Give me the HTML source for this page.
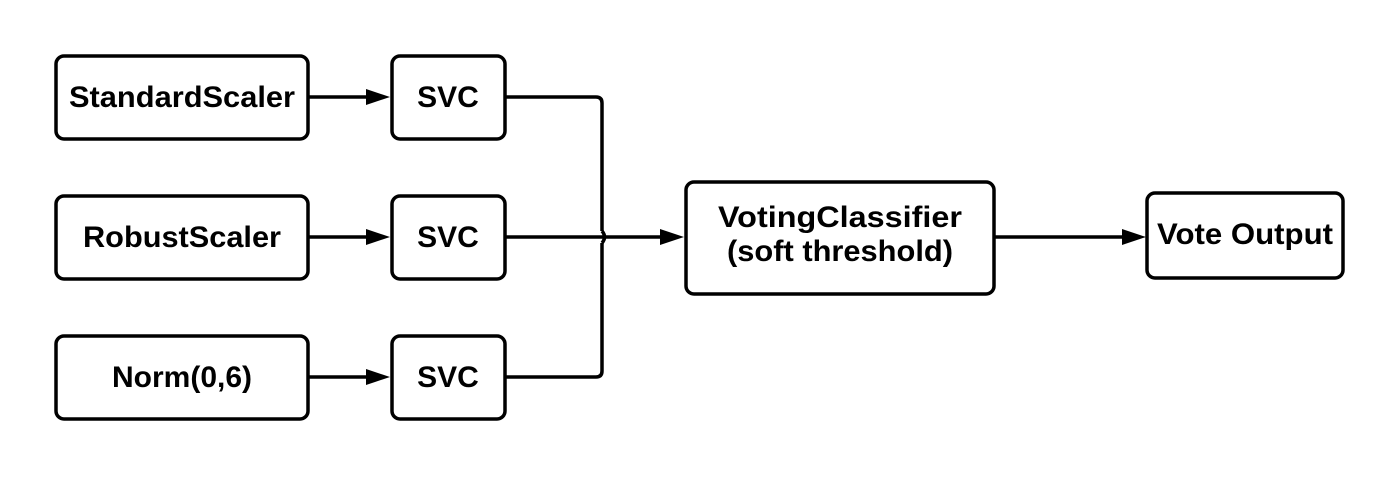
<!DOCTYPE html>
<html><head><style>body{margin:0;background:#fff}</style></head><body>
<svg width="1400" height="476" xmlns="http://www.w3.org/2000/svg" font-family="Liberation Sans, sans-serif" font-weight="bold" font-size="30">
<g fill="#fff" stroke="#000" stroke-width="3.5">
<rect x="56" y="56" width="252" height="83" rx="8"/>
<rect x="56" y="196" width="252" height="83" rx="8"/>
<rect x="56" y="336" width="252" height="83" rx="8"/>
<rect x="392" y="56" width="113" height="83" rx="8"/>
<rect x="392" y="196" width="113" height="83" rx="8"/>
<rect x="392" y="336" width="113" height="83" rx="8"/>
<rect x="686" y="182" width="308" height="112" rx="8"/>
<rect x="1147" y="193" width="196" height="85" rx="8"/>
</g>
<g fill="none" stroke="#000" stroke-width="3.5">
<path d="M308,97H368M308,237H368M308,377H368"/>
<path d="M505,97H596Q602,97 602,103V231M602,243V371Q602,377 596,377H505"/>
<path d="M602,231Q607,237 602,243"/>
<path d="M505,237H662M994,237H1124"/>
</g>
<g fill="#000">
<path d="M366,89L390,97L366,105Z"/><path d="M366,229L390,237L366,245Z"/><path d="M366,369L390,377L366,385Z"/>
<path d="M660,229L684,237L660,245Z"/><path d="M1122,229L1146,237L1122,245Z"/>
</g>
<g text-anchor="middle" fill="#000">
<text x="182" y="107" textLength="226" lengthAdjust="spacingAndGlyphs">StandardScaler</text>
<text x="182" y="247" textLength="198" lengthAdjust="spacingAndGlyphs">RobustScaler</text>
<text x="182" y="387">Norm(0,6)</text>
<text x="448" y="107">SVC</text><text x="448" y="247">SVC</text><text x="448" y="387">SVC</text>
<text x="840" y="227" textLength="244" lengthAdjust="spacingAndGlyphs">VotingClassifier</text>
<text x="840" y="261" textLength="226" lengthAdjust="spacingAndGlyphs">(soft threshold)</text>
<text x="1245" y="244" textLength="176" lengthAdjust="spacingAndGlyphs">Vote Output</text>
</g>
</svg>
</body></html>
